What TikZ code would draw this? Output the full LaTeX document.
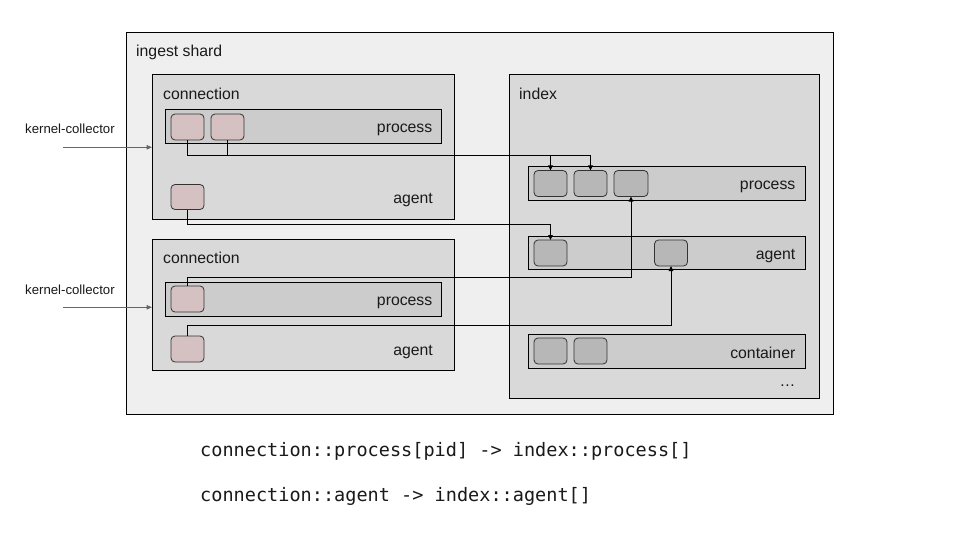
\documentclass[tikz,border=0pt]{standalone}
\usepackage{fontspec}
\setmainfont{Liberation Sans}
\newfontfamily\codefont{DejaVu Sans Mono}
\usetikzlibrary{arrows.meta,calc}
\definecolor{shardfill}{HTML}{EFEFEF}
\definecolor{connfill}{HTML}{D9D9D9}
\definecolor{barfill}{HTML}{CCCCCC}
\definecolor{pinkfill}{HTML}{D5C1C1}
\definecolor{greyfill}{HTML}{B7B7B7}
\definecolor{kcgrey}{HTML}{666666}
\definecolor{txt}{HTML}{1A1A1A}
\tikzset{
  panel/.style={draw=black, line width=1pt, inner sep=0pt, outer sep=0pt},
  shardbox/.style={panel, fill=shardfill},
  connbox/.style={panel, fill=connfill},
  barbox/.style={panel, fill=barfill},
  cell/.style={draw=black!80, line width=0.8pt, rounded corners=4pt, minimum width=33pt, minimum height=26pt, inner sep=0pt, outer sep=0pt},
  pinkcell/.style={cell, fill=pinkfill},
  greycell/.style={cell, fill=greyfill},
  lbl/.style={font=\fontsize{15.8}{18}\selectfont, text=txt, inner sep=0pt},
  kclbl/.style={font=\fontsize{13.2}{15}\selectfont, text=txt, inner sep=0pt},
  codelbl/.style={font=\codefont\fontsize{18.55}{22}\selectfont, text=txt, inner sep=0pt},
  link/.style={draw=black, line width=1pt},
  linktip/.style={link, -{Triangle[length=5pt,width=4.5pt]}},
  kcarrow/.style={draw=kcgrey, line width=1pt, -{Triangle[length=5.5pt,width=4.5pt]}}
}
\begin{document}
\begin{tikzpicture}[x=1pt,y=-1pt]
\useasboundingbox (0,0) rectangle (960,540);
\fill[white] (0,0) rectangle (960,540);

% ingest shard
\node[shardbox, minimum width=707pt, minimum height=381pt] (shard) at (479.5,223.5) {};
\node[lbl, anchor=base west] (shardlbl) at (136,56.5) {ingest shard};

% connection 1
\node[connbox, minimum width=302pt, minimum height=144pt] (conn1) at (303,147) {};
\node[lbl, anchor=base west] (conn1lbl) at (163,99.8) {connection};
\node[barbox, minimum width=276pt, minimum height=34pt] (c1pbar) at (303,127) {};
\node[lbl, anchor=base east] (c1plbl) at (432.5,133) {process};
\node[pinkcell] (c1p1) at (187.5,127) {};
\node[pinkcell] (c1p2) at (227.5,127) {};
\node[pinkcell, minimum height=25pt] (c1a) at (187.5,197) {};
\node[lbl, anchor=base east] (c1albl) at (433,204) {agent};

% connection 2
\node[connbox, minimum width=302pt, minimum height=131pt] (conn2) at (303,304.5) {};
\node[lbl, anchor=base west] (conn2lbl) at (163,263.8) {connection};
\node[barbox, minimum width=276pt, minimum height=34pt] (c2pbar) at (303,299.5) {};
\node[lbl, anchor=base east] (c2plbl) at (432.5,305) {process};
\node[pinkcell] (c2p) at (187.5,299) {};
\node[pinkcell] (c2a) at (187.5,349) {};
\node[lbl, anchor=base east] (c2albl) at (433,355) {agent};

% index
\node[connbox, minimum width=310pt, minimum height=323pt] (index) at (664,236.5) {};
\node[lbl, anchor=base west] (indexlbl) at (519,99.8) {index};
\node[barbox, minimum width=277pt, minimum height=34pt] (ipbar) at (666.5,183.5) {};
\node[lbl, anchor=base east] (iplbl) at (795.5,189.5) {process};
\node[greycell] (ip1) at (550.5,183.5) {};
\node[greycell] (ip2) at (590.5,183.5) {};
\node[greycell, minimum width=34pt] (ip3) at (631,183.5) {};
\node[barbox, minimum width=277pt, minimum height=33pt] (iabar) at (666.5,252.7) {};
\node[lbl, anchor=base east] (ialbl) at (795.5,259) {agent};
\node[greycell] (ia1) at (550.5,253) {};
\node[greycell] (ia2) at (671,253) {};
\node[barbox, minimum width=277pt, minimum height=34pt] (icbar) at (666.5,351.3) {};
\node[lbl, anchor=base east] (iclbl) at (795.5,358) {container};
\node[greycell] (ic1) at (550.5,351) {};
\node[greycell] (ic2) at (590.5,351) {};
\node[lbl, anchor=base east] (idots) at (795.5,386.5) {…};

% kernel-collector inputs
\node[kclbl, anchor=base west] (kc1lbl) at (25,134) {kernel-collector};
\node[kclbl, anchor=base west] (kc2lbl) at (25,294) {kernel-collector};
\coordinate (kc1) at (63,147.3);
\coordinate (kc2) at (63,307.3);
\draw[kcarrow] (kc1) -- (conn1.west |- kc1);
\draw[kcarrow] (kc2) -- (conn2.west |- kc2);

% connectors
\coordinate (busA) at (0,155.5);
\coordinate (busB) at (0,224);
\coordinate (busC) at (0,277);
\coordinate (busD) at (0,325.5);
\draw[linktip] (c1p1.south) |- (ip2.north |- busA) -- (ip2.north);
\draw[link] (c1p2.south) -- (c1p2.south |- busA);
\draw[linktip] (ip1.north |- busA) -- (ip1.north);
\draw[linktip] (c1a.south) |- (ia1.north |- busB) -- (ia1.north);
\draw[linktip] (c2p.north) |- (ip3.south |- busC) -- (ip3.south);
\draw[linktip] (c2a.north) |- (ia2.south |- busD) -- (ia2.south);

% code lines
\node[codelbl, anchor=base west] (code1) at (200,456) {connection::process[pid] -> index::process[]};
\node[codelbl, anchor=base west] (code2) at (200,501) {connection::agent -> index::agent[]};
\end{tikzpicture}
\end{document}
